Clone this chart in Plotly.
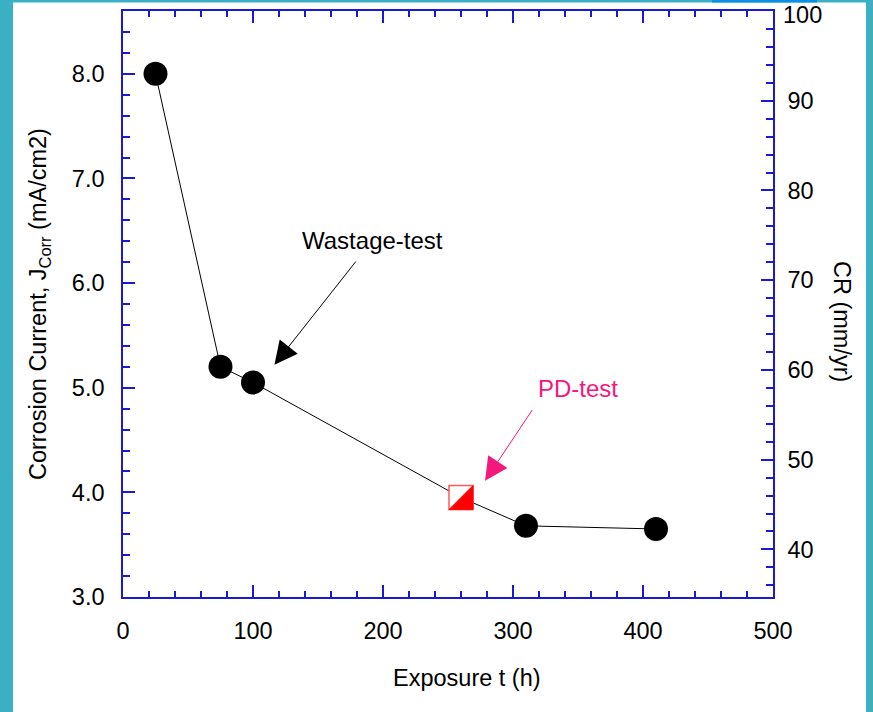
import plotly.graph_objects as go

# ---- data ----
wastage_hours = [25, 75, 100, 310, 410]
wastage_jcorr = [8.0, 5.2, 5.05, 3.68, 3.65]
pd_hours = [260]
pd_jcorr = [3.95]

x_range = [0, 500]
y_range = [3.0, 8.6]
y2_range = [34.7, 100]
x_ticks = [0, 100, 200, 300, 400, 500]
y_ticks = [3.0, 4.0, 5.0, 6.0, 7.0, 8.0]
y2_ticks = [40, 50, 60, 70, 80, 90, 100]

# combined line through all points in time order
pts = sorted(list(zip(wastage_hours, wastage_jcorr)) + list(zip(pd_hours, pd_jcorr)))
line_x = [p[0] for p in pts]
line_y = [p[1] for p in pts]

AXIS_BLUE = "#1a1ad4"
FONT = "Liberation Sans, Arial, sans-serif"
PINK = "#f5187c"
FS = 23.5
LW = 1.6

fig = go.Figure()
fig.add_trace(go.Scatter(x=line_x, y=line_y, mode="lines",
                         line=dict(color="black", width=1), showlegend=False,
                         hoverinfo="skip"))
fig.add_trace(go.Scatter(x=wastage_hours, y=wastage_jcorr, mode="markers",
                         marker=dict(symbol="circle", size=24, color="black",
                                     line=dict(width=0)),
                         showlegend=False))
fig.add_trace(go.Scatter(x=pd_hours, y=pd_jcorr, mode="markers",
                         marker=dict(symbol="square", size=24, color="white",
                                     line=dict(color="#ff5a5a", width=1.5)),
                         showlegend=False))
# invisible trace to activate y2
fig.add_trace(go.Scatter(x=[x_range[0]], y=[y2_range[0]], yaxis="y2", mode="markers",
                         marker=dict(opacity=0), showlegend=False, hoverinfo="skip"))

shapes = []
# white page panel over teal frame
shapes.append(dict(type="rect", xref="paper", yref="paper",
                   x0=(13 - 123) / 650, x1=(866 - 123) / 650,
                   y0=-0.25, y1=(597 - 2.5) / 586,
                   fillcolor="white", line=dict(width=0), layer="below"))
# thin blue strip at top edge
shapes.append(dict(type="rect", xref="paper", yref="paper",
                   x0=(712 - 123) / 650, x1=(817 - 123) / 650,
                   y0=(597 - 2.5) / 586, y1=(597 + 1) / 586,
                   fillcolor="#0a8fe6", line=dict(width=0), layer="below"))
# half-filled PD marker (lower-right triangle)
for hx, hy in zip(pd_hours, pd_jcorr):
    shapes.append(dict(type="path", xref="x", yref="y",
                       xsizemode="pixel", ysizemode="pixel",
                       xanchor=hx, yanchor=hy,
                       path="M 12,12 L 12,-12 L -12,-12 Z",
                       fillcolor="#ff0000", line=dict(color="#ff0000", width=1),
                       layer="above"))

# top y2 tick label drawn slightly lower (as in the reference) so it is not clipped
top_y2 = y2_ticks[-1]
y2_ticktext = [str(v) if v != top_y2 else "" for v in y2_ticks]

annotations = [
    dict(text=str(top_y2), x=1, xshift=8, y=(597 - 15.5) / 586, xref="paper", yref="paper",
         xanchor="left", yanchor="middle", showarrow=False,
         font=dict(family=FONT, size=FS, color="black")),
    dict(text="Wastage-test", x=192, y=6.41, xref="x", yref="y", showarrow=False,
         xanchor="center", yanchor="middle",
         font=dict(family=FONT, size=24, color="black")),
    dict(text="", x=116.5, y=5.22, ax=180, ay=6.22, xref="x", yref="y",
         axref="x", ayref="y", showarrow=True, arrowhead=2, arrowsize=4.6,
         arrowwidth=1, arrowcolor="black", standoff=0),
    dict(text="PD-test", x=350, y=4.99, xref="x", yref="y", showarrow=False,
         xanchor="center", yanchor="middle",
         font=dict(family=FONT, size=24, color=PINK)),
    dict(text="", x=278.5, y=4.11, ax=315.5, ay=4.8, xref="x", yref="y",
         axref="x", ayref="y", showarrow=True, arrowhead=2, arrowsize=4.6,
         arrowwidth=1, arrowcolor=PINK, standoff=0),
    dict(text="Corrosion Current, J<sub>Corr</sub> (mA/cm2)", textangle=-90,
         x=(39 - 123) / 650, y=(597 - 304) / 586, xref="paper", yref="paper",
         xanchor="center", yanchor="middle",
         showarrow=False, font=dict(family=FONT, size=FS, color="black")),
    dict(text="CR (mm/yr)", textangle=90,
         x=(842 - 123) / 650, y=(597 - 322) / 586, xref="paper", yref="paper",
         xanchor="center", yanchor="middle",
         showarrow=False, font=dict(family=FONT, size=FS, color="black")),
    dict(text="Exposure t (h)",
         x=(467 - 123) / 650, y=(597 - 678) / 586, xref="paper", yref="paper",
         xanchor="center", yanchor="middle",
         showarrow=False, font=dict(family=FONT, size=FS, color="black")),
]

fig.update_layout(
    width=873, height=712,
    margin=dict(l=123, r=100, t=11, b=115, autoexpand=False),
    paper_bgcolor="#3bb0c4",
    plot_bgcolor="white",
    font=dict(family=FONT, size=FS, color="black"),
    showlegend=False,
    shapes=shapes,
    annotations=annotations,
    xaxis=dict(range=x_range, tickvals=x_ticks, ticktext=[str(v) for v in x_ticks],
               automargin=False, ticklabeloverflow="allow",
               showgrid=False, zeroline=False, showline=True, linecolor=AXIS_BLUE,
               linewidth=LW, mirror="ticks", ticks="inside", ticklen=12,
               tickwidth=LW, tickcolor=AXIS_BLUE, ticklabelstandoff=12,
               minor=dict(dtick=20, tick0=0, ticks="inside", ticklen=6,
                          tickwidth=LW, tickcolor=AXIS_BLUE, showgrid=False)),
    yaxis=dict(range=y_range, tickvals=y_ticks, ticktext=[f"{v:.1f}" for v in y_ticks],
               automargin=False, ticklabeloverflow="allow",
               showgrid=False, zeroline=False, showline=True, linecolor=AXIS_BLUE,
               linewidth=LW, mirror=False, ticks="inside", ticklen=12,
               tickwidth=LW, tickcolor=AXIS_BLUE, ticklabelstandoff=12,
               minor=dict(dtick=0.2, tick0=3.0, ticks="inside", ticklen=7,
                          tickwidth=LW, tickcolor=AXIS_BLUE, showgrid=False)),
    yaxis2=dict(range=y2_range, tickvals=y2_ticks, ticktext=y2_ticktext,
                overlaying="y", side="right", anchor="x", automargin=False,
                ticklabeloverflow="allow",
                showgrid=False, zeroline=False, showline=True, linecolor=AXIS_BLUE,
                linewidth=LW, ticks="inside", ticklen=12,
                tickwidth=LW, tickcolor=AXIS_BLUE, ticklabelstandoff=8,
                minor=dict(dtick=2, tick0=0, ticks="inside", ticklen=7,
                           tickwidth=LW, tickcolor=AXIS_BLUE, showgrid=False)),
)

fig.write_html("out.html",
               config={"displayModeBar": False},
               post_script="document.body.style.margin='0px';document.body.style.padding='0px';document.body.style.overflow='hidden';")
